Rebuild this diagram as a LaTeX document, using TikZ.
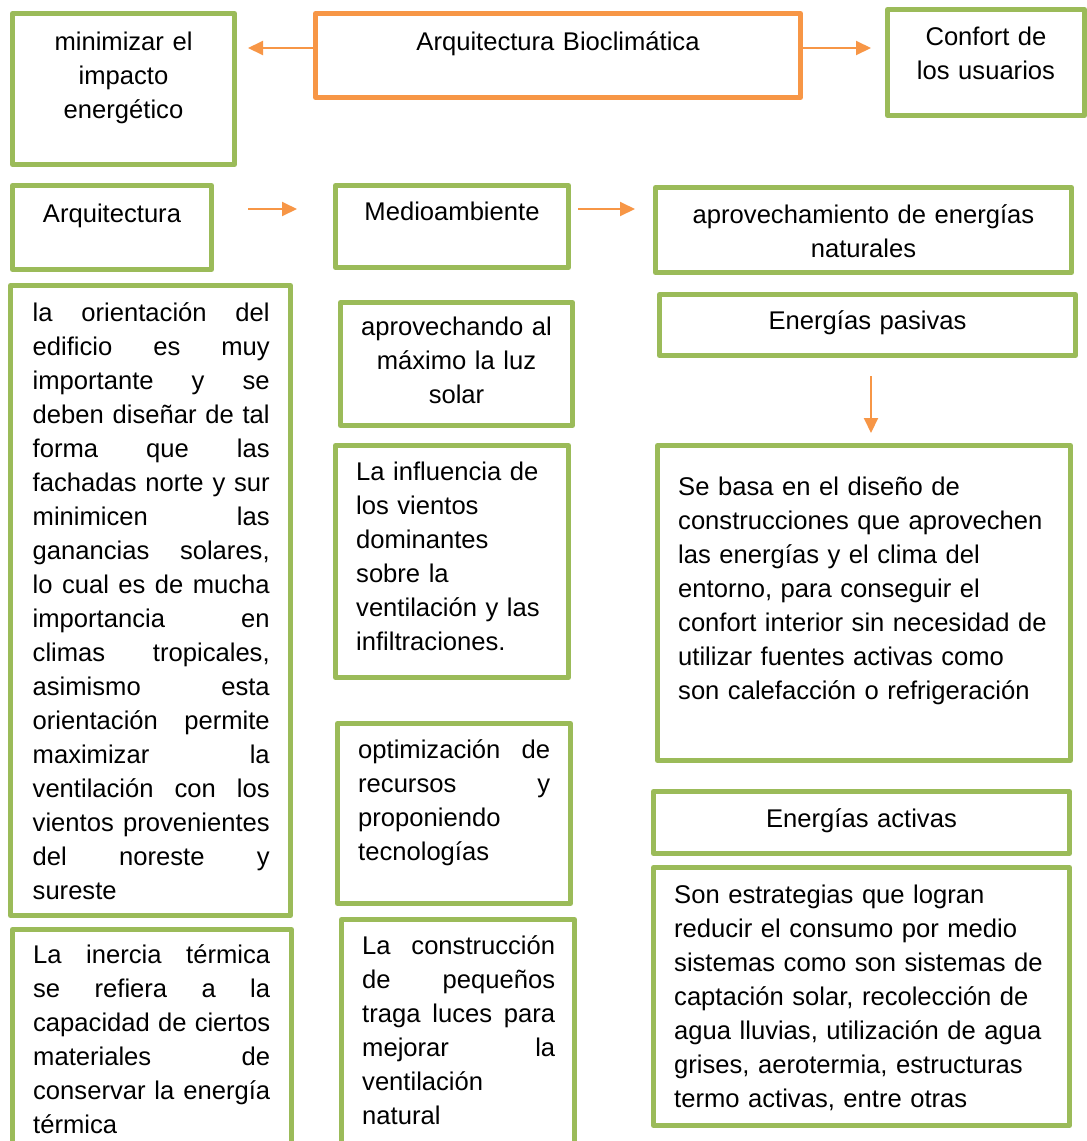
\documentclass[tikz,border=0pt]{standalone}
\usepackage{fontspec}
\setmainfont{Liberation Sans}
\usetikzlibrary{arrows.meta}
\definecolor{boxgreen}{HTML}{9BBB59}
\definecolor{linkorange}{HTML}{F79646}
\setlength{\parindent}{0pt}
\pretolerance=10000
\tolerance=10000
\hyphenpenalty=10000
\hbadness=10000
\begin{document}
\begin{tikzpicture}[x=1pt,y=-1pt,
  every node/.style={font=\fontsize{25.6}{34}\selectfont},
  gbox/.style={draw=boxgreen, line width=5pt, line join=round, rectangle,
               inner sep=0pt, outer sep=0pt, anchor=north west},
  obox/.style={gbox, draw=linkorange},
  ctext/.style={anchor=north, inner sep=0pt, yshift=23.8pt, align=center, text width=#1pt},
  ltext/.style={anchor=north west, inner sep=0pt, yshift=23.8pt, align=left, text width=#1pt},
  jtext/.style={anchor=north west, inner sep=0pt, yshift=23.8pt, align=justify, text width=#1pt},
  link/.style={draw=linkorange, line width=2pt, -{Triangle[length=15pt,width=14pt]}}
]
\fill[white] (0,0) rectangle (1087,1141);
\clip (0,0) rectangle (1087,1141);

% top row
\node[gbox, minimum width=222pt, minimum height=151pt] (b1) at (12.5,13.5) {};
\node[obox, minimum width=485pt, minimum height=84pt] (b2) at (315.5,13.5) {};
\node[gbox, minimum width=197pt, minimum height=106pt] (b3) at (887.5,9.5) {};

% second row
\node[gbox, minimum width=199pt, minimum height=84pt] (b4) at (12.5,185.5) {};
\node[gbox, minimum width=233pt, minimum height=82pt] (b5) at (335.5,185.5) {};
\node[gbox, minimum width=416pt, minimum height=85pt] (b6) at (655.5,187.5) {};

% right column
\node[gbox, minimum width=416pt, minimum height=61pt] (b7) at (659.5,294.5) {};
\node[gbox, minimum width=413pt, minimum height=315pt] (b8) at (657.5,445.5) {};
\node[gbox, minimum width=416pt, minimum height=62pt] (b9) at (653.5,791.5) {};
\node[gbox, minimum width=416pt, minimum height=258pt] (b10) at (653.5,867.5) {};

% left column
\node[gbox, minimum width=280pt, minimum height=630pt] (b11) at (10.5,285.5) {};
\node[gbox, minimum width=279pt, minimum height=240pt] (b12) at (12.5,929.5) {};

% middle column
\node[gbox, minimum width=232pt, minimum height=123pt] (b13) at (340.5,302.5) {};
\node[gbox, minimum width=233pt, minimum height=232pt] (b14) at (335.5,445.5) {};
\node[gbox, minimum width=233pt, minimum height=180pt] (b15) at (337.5,723.5) {};
\node[gbox, minimum width=233pt, minimum height=240pt] (b16) at (341.5,919.5) {};

% texts
\node[ctext=220] (t1) at (123.5,50) {\strut minimizar el\\impacto\\energético};
\node[ctext=470] (t2) at (558,50) {\strut Arquitectura Bioclimática};
\node[ctext=190] (t3) at (986,45) {\strut Confort de\\los usuarios};
\node[ctext=190] (t4) at (112,222) {\strut Arquitectura};
\node[ctext=225] (t5) at (452,220) {\strut Medioambiente};
\node[ctext=410] (t6) at (863.5,223) {\strut aprovechamiento de energías\\naturales};
\node[ctext=410] (t7) at (867.5,329) {\strut Energías pasivas};
\node[ltext=385] (t8) at (678,495) {\strut Se basa en el diseño de\\construcciones que aprovechen\\las energías y el clima del\\entorno, para conseguir el\\confort interior sin necesidad de\\utilizar fuentes activas como\\son calefacción o refrigeración};
\node[ctext=410] (t9) at (861.5,827) {\strut Energías activas};
\node[ltext=390] (t10) at (674,903) {\strut Son estrategias que logran\\reducir el consumo por medio\\sistemas como son sistemas de\\captación solar, recolección de\\agua lluvias, utilización de agua\\grises, aerotermia, estructuras\\termo activas, entre otras};
\node[jtext=237] (t11) at (32.5,321) {\strut la orientación del\linebreak edificio es muy\linebreak importante y se\linebreak deben diseñar de tal\linebreak forma que las\linebreak fachadas norte y sur\linebreak minimicen las\linebreak ganancias solares,\linebreak lo cual es de mucha\linebreak importancia en\linebreak climas tropicales,\linebreak asimismo esta\linebreak orientación permite\linebreak maximizar la\linebreak ventilación con los\linebreak vientos provenientes\linebreak del noreste y\linebreak sureste};
\node[jtext=237] (t12) at (33,963) {\strut La inercia térmica\linebreak se refiera a la\linebreak capacidad de ciertos\linebreak materiales de\linebreak conservar la energía\linebreak térmica};
\node[ctext=225] (t13) at (456.5,335) {\strut aprovechando al\\máximo la luz\\solar};
\node[ltext=200] (t14) at (356,480) {\strut La influencia de\\los vientos\\dominantes\\sobre la\\ventilación y las\\infiltraciones.};
\node[jtext=192] (t15) at (358,758) {\strut optimización de\linebreak recursos y\linebreak proponiendo\linebreak tecnologías};
\node[jtext=193] (t16) at (362,954) {\strut La construcción\linebreak de pequeños\linebreak traga luces para\linebreak mejorar la\linebreak ventilación\linebreak natural};

% connectors
\coordinate (yTop) at (0,48);
\coordinate (yMid) at (0,209);
\coordinate (xDown) at (871,0);
\draw[link, shorten >=13.5pt] (b2.west |- yTop) -- (b1.east |- yTop);
\draw[link, shorten >=16.5pt] (b2.east |- yTop) -- (b3.west |- yTop);
\draw[link, shorten <=36.5pt, shorten >=38.5pt] (b4.east |- yMid) -- (b5.west |- yMid);
\draw[link, shorten <=9.5pt, shorten >=20.5pt] (b5.east |- yMid) -- (b6.west |- yMid);
\draw[link, shorten <=20.5pt, shorten >=12.5pt] (xDown |- b7.south) -- (xDown |- b8.north);
\end{tikzpicture}
\end{document}
